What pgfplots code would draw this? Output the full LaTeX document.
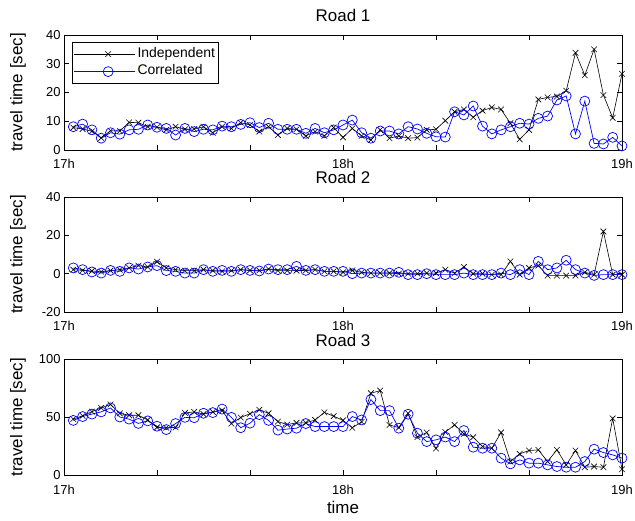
\documentclass[border=0pt]{standalone}
\usepackage{fontspec}
\setmainfont{Liberation Sans}
\usepackage{pgfplots}
\usepackage{pgfplotstable}
\pgfplotsset{compat=1.18}

\pgfplotstableread{
t ind cor
2 7.8 8.1
4 7.3 9.0
6 6.5 7.0
8 4.2 4.1
10 6.7 6.0
12 6.6 5.5
14 9.6 7.0
16 9.5 7.2
18 8.1 8.7
20 7.9 7.9
22 7.0 7.5
24 8.1 5.2
26 7.2 7.5
28 7.3 6.4
30 8.1 7.2
32 6.0 7.0
34 8.1 8.3
36 7.5 8.1
38 9.5 8.9
40 8.7 9.5
42 6.4 7.8
44 8.1 9.3
46 5.2 7.2
48 7.5 7.2
50 7.2 7.2
52 4.9 5.8
54 6.4 7.5
56 4.9 6.0
58 7.8 7.0
60 4.4 8.7
62 7.5 10.4
64 4.9 6.0
66 3.5 4.1
68 7.0 6.6
70 4.1 6.6
72 4.9 5.6
74 4.1 8.1
76 4.3 7.3
78 7.0 5.8
80 7.2 4.6
82 10.2 4.5
84 13.3 13.3
86 14.1 12.2
88 11.4 15.3
90 13.7 8.3
92 14.8 5.6
94 14.1 7.0
96 9.3 8.1
98 3.7 9.3
100 7.0 9.0
102 17.6 11.0
104 18.3 11.8
106 18.6 17.4
108 20.6 18.8
110 33.8 5.6
112 26.0 17.0
114 35.0 2.3
116 19.1 2.1
118 11.2 4.4
120 26.5 1.4
}\roadone

\pgfplotstableread{
t ind cor
2 2.1 3.0
4 1.7 2.1
6 1.4 0.9
8 1.0 0.3
10 1.6 1.7
12 2.1 1.2
14 3.0 3.0
16 4.2 2.4
18 3.5 3.5
20 6.2 4.2
22 3.0 1.6
24 2.1 1.2
26 1.6 0.3
28 1.6 0.3
30 2.1 2.1
32 1.6 1.2
34 1.2 1.7
36 1.6 1.2
38 2.1 2.1
40 1.7 1.7
42 1.7 1.4
44 2.4 2.4
46 1.6 2.1
48 1.6 2.1
50 1.6 3.8
52 1.7 1.7
54 2.1 2.1
56 1.2 1.2
58 1.2 1.2
60 0.7 1.2
62 1.7 0.0
64 0.7 0.3
66 0.3 0.3
68 0.3 0.3
70 0.3 0.3
72 0.0 0.7
74 0.0 -0.5
76 0.0 -0.5
78 0.3 0.0
80 0.3 -0.5
82 2.1 -0.5
84 0.3 -0.5
86 3.5 0.3
88 0.0 -0.5
90 0.0 -0.5
92 -0.5 -0.5
94 -0.5 0.3
96 6.4 -0.5
98 -0.5 2.1
100 3.0 -0.5
102 4.2 6.4
104 -1.0 2.1
106 -1.0 3.0
108 -1.0 7.0
110 -1.0 2.1
112 0.7 0.3
114 -0.5 -0.9
116 22.0 -0.5
118 -0.5 -0.5
120 -0.5 -0.5
}\roadtwo

\pgfplotstableread{
t ind cor
2 48.5 47.3
4 51.2 50.6
6 54.8 52.7
8 58.0 54.6
10 61.0 58.0
12 53.3 50.2
14 51.7 48.4
16 51.7 44.7
18 47.7 46.9
20 41.3 42.3
22 41.0 39.4
24 41.3 44.6
26 53.7 49.9
28 54.6 49.6
30 52.7 53.4
32 54.6 54.0
34 55.8 57.0
36 44.5 49.9
38 49.8 41.0
40 53.0 44.9
42 56.4 52.3
44 53.4 47.3
46 46.3 38.9
48 43.7 39.9
50 45.2 40.6
52 45.2 44.6
54 47.7 42.0
56 54.2 42.0
58 50.9 42.0
60 47.3 42.0
62 41.0 50.6
64 46.0 47.7
66 70.6 65.2
68 72.9 55.7
70 43.4 55.7
72 41.1 40.6
74 53.4 52.6
76 32.9 36.3
78 36.9 29.1
80 23.2 30.6
82 37.3 33.0
84 43.4 29.1
86 35.7 38.6
88 32.9 24.3
90 24.9 23.4
92 23.4 23.4
94 36.9 14.9
96 12.0 10.0
98 18.6 13.4
100 21.4 10.6
102 22.0 10.6
104 12.0 9.1
106 22.0 7.7
108 9.1 7.1
110 21.4 7.1
112 7.1 12.0
114 7.7 22.6
116 7.1 19.7
118 49.0 17.7
120 5.4 14.9
}\roadthree

\pgfplotsset{
  roadaxis/.style={
    scale only axis, width=558bp, anchor=south west,
    xmin=0, xmax=120, xtick={0,20,...,120},
    xticklabels={17h,,,18h,,,19h},
    tick align=inside, tick pos=both,
    major tick length=5bp,
    axis line style={line width=0.7bp},
    every tick/.style={black, line width=0.6bp},
    tick label style={font=\fontsize{13}{15}\selectfont},
    xticklabel style={yshift=-6bp},
    /pgf/number format/assume math mode=true,
    every axis title/.style={at={(axis description cs:0.5,1)}, anchor=base, yshift=13bp, font=\fontsize{17}{20}\selectfont},
    every axis y label/.style={at={(axis description cs:-0.0744,0.5)}, anchor=base, rotate=90, font=\fontsize{17}{20}\selectfont},
    every axis x label/.style={at={(axis description cs:0.5,0)}, anchor=base, yshift=-38bp, font=\fontsize{17}{20}\selectfont},
    ylabel={travel time [sec]},
    clip=false,
    legend image code/.code={%
      \path (-8bp,0bp) -- (53bp,0bp);
      \draw[mark repeat=2,mark phase=2] plot coordinates {(0bp,0bp) (26bp,0bp) (52bp,0bp)};},
  },
  indep/.style={black, line width=0.6bp, mark=x, mark size=4bp, mark options={solid, line width=0.6bp}},
  corr/.style={blue, line width=0.7bp, mark=o, mark size=5bp, mark options={solid, line width=0.7bp}},
}

\begin{document}
\begin{tikzpicture}
\useasboundingbox (0bp,0bp) rectangle (635bp,521bp);

\begin{axis}[roadaxis, at={(64bp,371bp)}, height=115bp,
  ymin=0, ymax=40, ytick={0,10,20,30,40},
  title={Road 1},
  legend cell align=left,
  legend style={at={(axis description cs:0.0143,0.939)}, anchor=north west,
    font=\fontsize{14}{16}\selectfont, draw=black, line width=0.7bp,
    inner xsep=1.5bp, inner ysep=3bp, row sep=0bp,
    nodes={inner sep=2bp, text height=10bp, text depth=3.5bp}},
]
\addplot[indep] table[x=t, y=ind] {\roadone};
\addlegendentry{Independent}
\addplot[corr] table[x=t, y=cor] {\roadone};
\addlegendentry{Correlated}
\end{axis}

\begin{axis}[roadaxis, at={(64bp,209bp)}, height=115bp,
  ymin=-20, ymax=40, ytick={-20,0,20,40},
  title={Road 2},
]
\addplot[indep] table[x=t, y=ind] {\roadtwo};
\addplot[corr] table[x=t, y=cor] {\roadtwo};
\end{axis}

\begin{axis}[roadaxis, at={(64bp,45.5bp)}, height=116.5bp,
  ymin=0, ymax=100, ytick={0,50,100},
  title={Road 3}, xlabel={time},
]
\addplot[indep] table[x=t, y=ind] {\roadthree};
\addplot[corr] table[x=t, y=cor] {\roadthree};
\end{axis}
\end{tikzpicture}
\end{document}
